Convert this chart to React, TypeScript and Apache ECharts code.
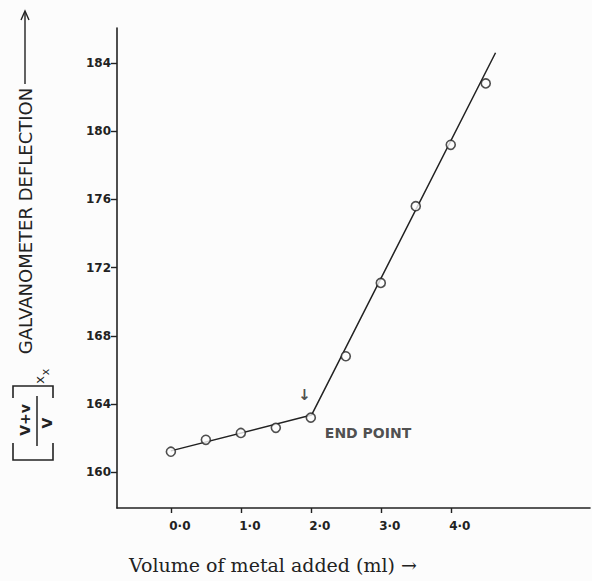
import React, { useEffect, useRef } from "react";
import * as echarts from "echarts";

// Measured points (volume of metal added, ml) and deflection values
const volume = [0, 0.5, 1.0, 1.5, 2.0, 2.5, 3.0, 3.5, 4.0, 4.5];
const deflection = [161.2, 161.9, 162.3, 162.6, 163.2, 166.8, 171.1, 175.6, 179.2, 182.8];

// Hand-fitted straight lines (two segments meeting at the end point)
const fitVolume = [0, 2.01, 4.64];
const fitDeflection = [161.25, 163.35, 184.6];

// Axis ticks and labels
const xTickValues = [0, 1, 2, 3, 4];
const xTickLabels = ["0·0", "1·0", "2·0", "3·0", "4·0"];
const yTickValues = [160, 164, 168, 172, 176, 180, 184];

// Annotations
const arrowAt = [1.91, 164.5];
const endPointLabelAt = [2.2, 162.3];

export default function App() {
  const ref = useRef<HTMLDivElement>(null);

  useEffect(() => {
    document.body.style.margin = "0";
    const chart = echarts.init(ref.current!, null, { renderer: "svg" });
    const ink = "#222222";

    const option: any = {
      animation: false,
      backgroundColor: "#fcfcfc",
      grid: { left: 117, right: 2, top: 28, bottom: 73, containLabel: false, outerBoundsMode: "none" },
      xAxis: {
        type: "value",
        min: -0.77,
        max: 5.99,
        axisLine: { show: true, onZero: false, lineStyle: { color: ink, width: 1.6 } },
        axisTick: { show: true, customValues: xTickValues, length: 5, lineStyle: { color: ink, width: 1.4 } },
        axisLabel: {
          show: true,
          customValues: xTickValues,
          formatter: (v: number) => xTickLabels[xTickValues.indexOf(Math.round(v))] ?? "",
          color: ink,
          fontFamily: "DejaVu Sans",
          fontSize: 12,
          fontWeight: "bold",
          margin: 12,
          padding: [0, 0, 0, 18],
        },
        splitLine: { show: false },
      },
      yAxis: {
        type: "value",
        min: 157.9,
        max: 186.05,
        axisLine: { show: true, onZero: false, lineStyle: { color: ink, width: 1.6 } },
        axisTick: { show: true, customValues: yTickValues, length: 6, lineStyle: { color: ink, width: 1.4 } },
        axisLabel: {
          show: true,
          customValues: yTickValues,
          color: ink,
          fontFamily: "DejaVu Sans",
          fontSize: 12,
          fontWeight: "bold",
          margin: 6,
        },
        splitLine: { show: false },
      },
      series: [
        {
          type: "line",
          name: "fit",
          data: fitVolume.map((v, i) => [v, fitDeflection[i]]),
          symbol: "none",
          lineStyle: { color: ink, width: 1.5 },
          z: 2,
        },
        {
          type: "scatter",
          name: "measured",
          data: volume.map((v, i) => [v, deflection[i]]),
          symbol: "circle",
          symbolSize: 9,
          itemStyle: { color: "#fcfcfc", borderColor: ink, borderWidth: 1.6 },
          z: 3,
        },
        {
          type: "scatter",
          name: "arrow",
          data: [arrowAt],
          symbolSize: 0,
          label: {
            show: true,
            position: "inside",
            formatter: "↓",
            color: ink,
            fontSize: 15,
            fontWeight: "bold",
            fontFamily: "DejaVu Sans",
          },
          z: 4,
        },
        {
          type: "scatter",
          name: "endpoint",
          data: [endPointLabelAt],
          symbolSize: 0,
          label: {
            show: true,
            position: "right",
            distance: 0,
            formatter: "END POINT",
            color: ink,
            fontSize: 14,
            fontWeight: "bold",
            fontFamily: "DejaVu Sans",
          },
          z: 4,
        },
      ],
      graphic: [
        // y-axis title: GALVANOMETER DEFLECTION with arrow
        {
          type: "text",
          x: 25,
          y: 221,
          rotation: Math.PI / 2,
          style: {
            text: "GALVANOMETER DEFLECTION",
            fill: ink,
            font: "18px 'DejaVu Sans'",
            textAlign: "center",
            textVerticalAlign: "middle",
          },
        },
        { type: "line", shape: { x1: 25, y1: 84, x2: 25, y2: 12 }, style: { stroke: ink, lineWidth: 1.4 } },
        {
          type: "polyline",
          shape: { points: [[21, 20], [25, 11], [29, 20]] },
          style: { stroke: ink, lineWidth: 1.4, fill: null },
        },
        // x subscript x
        {
          type: "text",
          x: 39,
          y: 380,
          rotation: Math.PI / 2,
          style: { text: "x", fill: ink, font: "13px 'DejaVu Sans'", textAlign: "center", textVerticalAlign: "middle" },
        },
        {
          type: "text",
          x: 45,
          y: 372,
          rotation: Math.PI / 2,
          style: { text: "x", fill: ink, font: "11px 'DejaVu Sans'", textAlign: "center", textVerticalAlign: "middle" },
        },
        // brackets
        {
          type: "polyline",
          shape: { points: [[13, 443], [13, 460], [53, 460], [53, 443]] },
          style: { stroke: ink, lineWidth: 1.6, fill: null },
        },
        {
          type: "polyline",
          shape: { points: [[13, 398], [13, 386], [53, 386], [53, 398]] },
          style: { stroke: ink, lineWidth: 1.6, fill: null },
        },
        // fraction (V+v)/V
        {
          type: "text",
          x: 25,
          y: 420,
          rotation: Math.PI / 2,
          style: { text: "V+v", fill: ink, font: "bold 14px 'DejaVu Sans'", textAlign: "center", textVerticalAlign: "middle" },
        },
        { type: "line", shape: { x1: 37, y1: 396, x2: 37, y2: 446 }, style: { stroke: ink, lineWidth: 1.5 } },
        {
          type: "text",
          x: 47,
          y: 423,
          rotation: Math.PI / 2,
          style: { text: "V", fill: ink, font: "bold 14px 'DejaVu Sans'", textAlign: "center", textVerticalAlign: "middle" },
        },
        // x-axis title
        {
          type: "text",
          x: 273,
          y: 565,
          style: {
            text: "Volume of metal added (ml) →",
            fill: ink,
            font: "19px 'DejaVu Serif'",
            textAlign: "center",
            textVerticalAlign: "middle",
          },
        },
      ],
    };

    chart.setOption(option);
    return () => chart.dispose();
  }, []);

  return <div ref={ref} style={{ width: 592, height: 581 }} />;
}
